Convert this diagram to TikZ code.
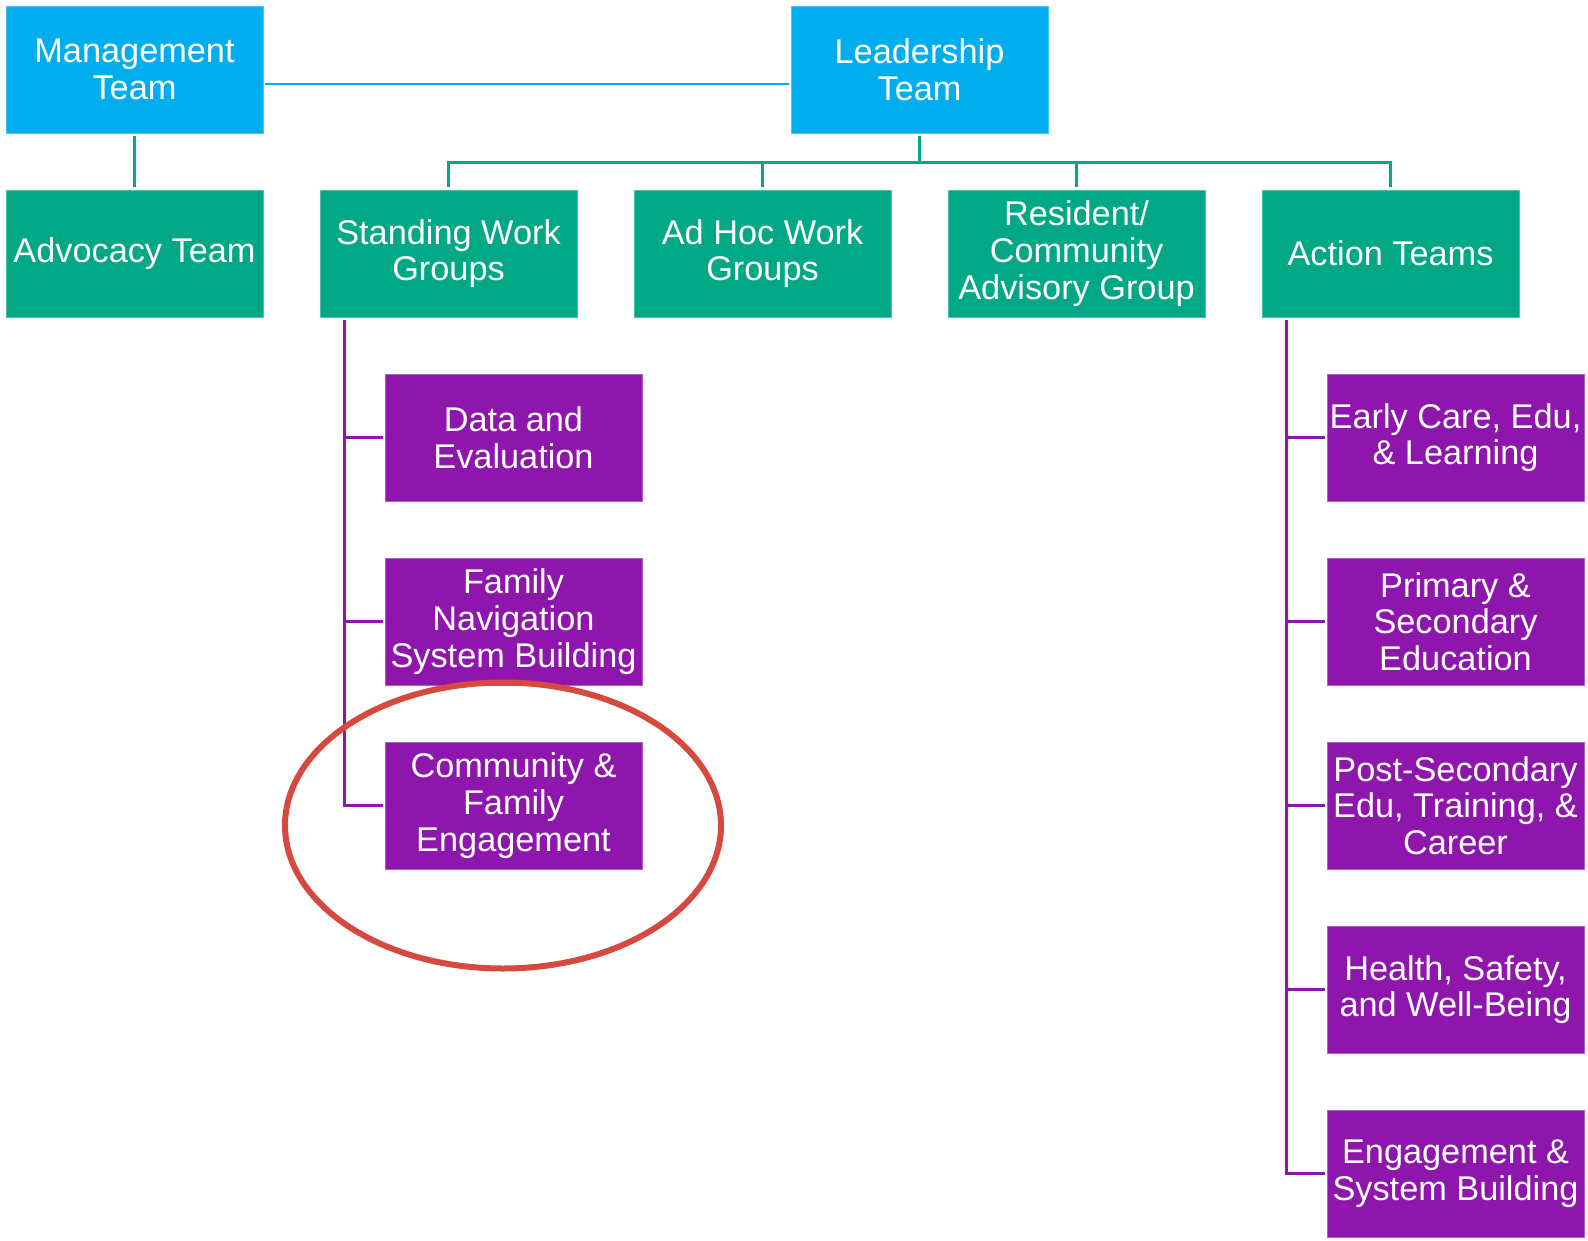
\documentclass[tikz,border=0pt]{standalone}
\usepackage{fontspec}
\setmainfont{Liberation Sans}
\usetikzlibrary{positioning}
\definecolor{teamblue}{HTML}{00AEEF}
\definecolor{groupgreen}{HTML}{00A886}
\definecolor{taskpurple}{HTML}{8F16AD}
\definecolor{ringred}{HTML}{D5493E}

\begin{document}
\begin{tikzpicture}[x=1pt, y=1pt, node distance=184pt and 314pt, on grid,
    box/.style={minimum width=257pt, minimum height=127pt, inner sep=1pt, align=center,
      text=white, font=\fontsize{34.3pt}{36.7pt}\selectfont},
    teambox/.style={box, fill=teamblue, draw=teamblue!70!white, line width=0.8pt},
    groupbox/.style={box, fill=groupgreen, draw=groupgreen!70!white, line width=0.8pt},
    taskbox/.style={box, fill=taskpurple, draw=taskpurple!70!white, line width=0.8pt},
    blueline/.style={draw=teamblue, line width=2pt},
    greenline/.style={draw=groupgreen, line width=2.5pt},
    purpleline/.style={draw=taskpurple, line width=2.5pt},
    ring/.style={draw=ringred, line width=6pt}]
	\useasboundingbox (0,0) rectangle (1588,-1240);
	% top rows
	\node[teambox] (mgmt) at (134.5,-69.5) {Management\\Team};
	\node[groupbox] (adv) [below=of mgmt] {Advocacy Team};
	\node[groupbox] (stand) [right=of adv] {Standing Work\\Groups};
	\node[groupbox] (adhoc) [right=of stand] {Ad Hoc Work\\Groups};
	\node[groupbox] (res) [right=of adhoc] {Resident/\\Community\\Advisory Group};
	\node[groupbox] (action) [right=of res] {Action Teams};
	\node[teambox] (lead) [above right=184pt and 157pt of adhoc] {Leadership\\Team};
	% standing work groups
	\node[taskbox] (data) [below right=184pt and 65pt of stand] {Data and\\Evaluation};
	\node[taskbox] (fam) [below=of data] {Family\\Navigation\\System Building};
	\node[taskbox] (comm) [below=of fam] {Community \&\\Family\\Engagement};
	% action teams
	\node[taskbox] (early) [below right=184pt and 65pt of action] {Early Care, Edu,\\\& Learning};
	\node[taskbox] (prim) [below=of early] {Primary \&\\Secondary\\Education};
	\node[taskbox] (post) [below=of prim] {Post-Secondary\\Edu, Training, \&\\Career};
	\node[taskbox] (health) [below=of post] {Health, Safety,\\and Well-Being};
	\node[taskbox] (engage) [below=of health] {Engagement \&\\System Building};

	\draw[blueline] ([xshift=2pt,yshift=-14.5pt]mgmt.east) -- ([xshift=-2pt,yshift=-14.5pt]lead.west);
	\draw[greenline] ([yshift=-3pt]mgmt.south) -- ([yshift=3pt]adv.north);
	\coordinate (bus) at ([yshift=-29pt]lead.south);
	\draw[greenline] ([yshift=-3pt]lead.south) -- (bus);
	\foreach \n in {stand,adhoc,res,action}
		\draw[greenline] (bus) -| ([yshift=3pt]\n.north);

	\coordinate (sv) at ([xshift=25pt,yshift=-3pt]stand.south west);
	\draw[purpleline] (sv) |- ([xshift=-2pt]comm.west);
	\foreach \n in {data,fam}
		\draw[purpleline] (sv |- \n.west) -- ([xshift=-2pt]\n.west);
	\coordinate (av) at ([xshift=25pt,yshift=-3pt]action.south west);
	\draw[purpleline] (av) |- ([xshift=-2pt]engage.west);
	\foreach \n in {early,prim,post,health}
		\draw[purpleline] (av |- \n.west) -- ([xshift=-2pt]\n.west);

	\draw[ring] ([xshift=-10.5pt,yshift=-20pt]comm.center) ellipse [x radius=218pt, y radius=143pt];
\end{tikzpicture}
\end{document}
